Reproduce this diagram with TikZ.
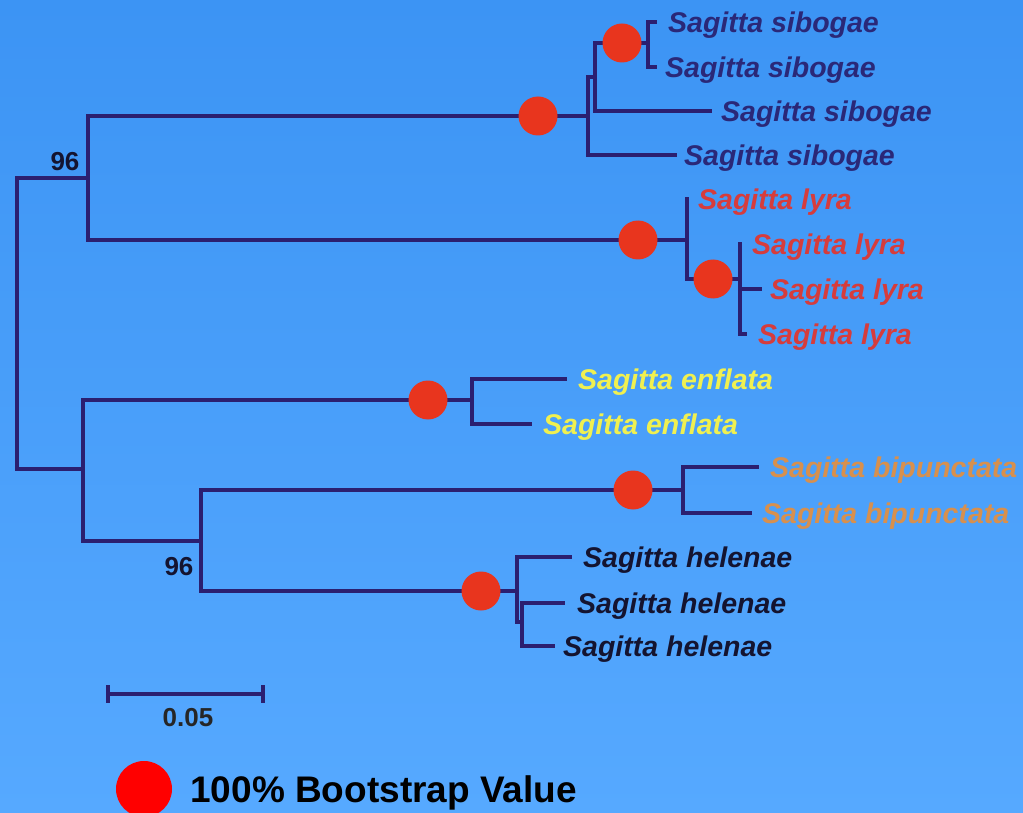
\documentclass[tikz,border=0pt]{standalone}
\usepackage{fontspec}
\setmainfont{Liberation Sans}
\usetikzlibrary{positioning}
\definecolor{bgtop}{HTML}{3C94F4}
\definecolor{bgbot}{HTML}{56A9FF}
\definecolor{branchcol}{HTML}{2B1F70}
\definecolor{bootcol}{HTML}{E8351E}
\definecolor{sibcol}{HTML}{2A2878}
\definecolor{lyrcol}{HTML}{D63C3C}
\definecolor{enfcol}{HTML}{F0F050}
\definecolor{bipcol}{HTML}{D7904E}
\definecolor{helcol}{HTML}{141430}
\begin{document}
\begin{tikzpicture}
  [
    x=1pt,y=-1pt,
    branch/.style={draw=branchcol,line width=4.5pt,line join=miter,line cap=rect},
    boot/.style={circle,fill=bootcol,minimum size=39pt,inner sep=0pt},
    taxon/.style={font=\fontsize{28.5}{30}\selectfont\bfseries\itshape,inner sep=0pt,yshift=-3pt},
    support/.style={font=\fontsize{26}{28}\selectfont\bfseries,text=helcol,inner sep=0pt},
  ]
  \shade [top color=bgtop,bottom color=bgbot] (0,0) rectangle (1023,813);
  \useasboundingbox (0,0) rectangle (1023,813);

  % inner nodes
  \coordinate (root) at (17,323);
  \coordinate (n1) at (88,178);
  \coordinate (n2) at (83,469);
  \coordinate (sib) at (588,116);
  \coordinate (sib2) at (595,77);
  \coordinate (sib3) at (648,43);
  \coordinate (lyr) at (687,240);
  \coordinate (lyr2) at (740,279);
  \coordinate (enf) at (472,400);
  \coordinate (n3) at (201,541);
  \coordinate (bip) at (683,490);
  \coordinate (hel) at (517,591);
  \coordinate (hel2) at (522,622);

  % tips
  \coordinate (t1) at (655,22);
  \coordinate (t2) at (655,67);
  \coordinate (t3) at (710,111);
  \coordinate (t4) at (675,155);
  \coordinate (t5) at (687,199);
  \coordinate (t6) at (740,244);
  \coordinate (t7) at (760,289);
  \coordinate (t8) at (745,334);
  \coordinate (t9) at (565,379);
  \coordinate (t10) at (530,424);
  \coordinate (t11) at (757,467);
  \coordinate (t12) at (750,513);
  \coordinate (t13) at (570,557);
  \coordinate (t14) at (563,603);
  \coordinate (t15) at (553,646);

  \draw [branch] (root) |- (n1);
  \draw [branch] (root) |- (n2);
  \draw [branch] (n1) |- (sib);
  \draw [branch] (n1) |- (lyr);
  \draw [branch] (sib) |- (t4);
  \draw [branch] (sib) |- (sib2);
  \draw [branch] (sib2) |- (t3);
  \draw [branch] (sib2) |- (sib3);
  \draw [branch] (sib3) |- (t1);
  \draw [branch] (sib3) |- (t2);
  \draw [branch] (lyr) |- (t5);
  \draw [branch] (lyr) |- (lyr2);
  \draw [branch] (lyr2) |- (t6);
  \draw [branch] (lyr2) |- (t7);
  \draw [branch] (lyr2) |- (t8);
  \draw [branch] (n2) |- (enf);
  \draw [branch] (n2) |- (n3);
  \draw [branch] (enf) |- (t9);
  \draw [branch] (enf) |- (t10);
  \draw [branch] (n3) |- (bip);
  \draw [branch] (n3) |- (hel);
  \draw [branch] (bip) |- (t11);
  \draw [branch] (bip) |- (t12);
  \draw [branch] (hel) |- (t13);
  \draw [branch] (hel) |- (hel2);
  \draw [branch] (hel2) |- (t14);
  \draw [branch] (hel2) |- (t15);

  % bootstrap dots
  \node (b1) at (622,43) [boot] {};
  \node (b2) at (538,116) [boot] {};
  \node (b3) at (638,240) [boot] {};
  \node (b4) at (713,279) [boot] {};
  \node (b5) at (428,400) [boot] {};
  \node (b6) at (633,490) [boot] {};
  \node (b7) at (481,591) [boot] {};

  \node (s1) [taxon,text=sibcol,right=13pt of t1] {Sagitta sibogae};
  \node (s2) [taxon,text=sibcol,right=10pt of t2] {Sagitta sibogae};
  \node (s3) [taxon,text=sibcol,right=11pt of t3] {Sagitta sibogae};
  \node (s4) [taxon,text=sibcol,right=9pt of t4] {Sagitta sibogae};
  \node (l1) [taxon,text=lyrcol,right=11pt of t5] {Sagitta lyra};
  \node (l2) [taxon,text=lyrcol,right=12pt of t6] {Sagitta lyra};
  \node (l3) [taxon,text=lyrcol,right=10pt of t7] {Sagitta lyra};
  \node (l4) [taxon,text=lyrcol,right=13pt of t8] {Sagitta lyra};
  \node (e1) [taxon,text=enfcol,right=13pt of t9] {Sagitta enflata};
  \node (e2) [taxon,text=enfcol,right=13pt of t10] {Sagitta enflata};
  \node (p1) [taxon,text=bipcol,right=13pt of t11] {Sagitta bipunctata};
  \node (p2) [taxon,text=bipcol,right=12pt of t12] {Sagitta bipunctata};
  \node (h1) [taxon,text=helcol,right=13pt of t13] {Sagitta helenae};
  \node (h2) [taxon,text=helcol,right=14pt of t14] {Sagitta helenae};
  \node (h3) [taxon,text=helcol,right=10pt of t15] {Sagitta helenae};

  \node (v1) at (65,162) [support] {96};
  \node (v2) at (179,567) [support] {96};

  % scale bar
  \coordinate (sb1) at (108,694);
  \coordinate (sb2) at (263,694);
  \draw [branch,line width=4pt,line cap=butt] (sb1) -- (sb2);
  \draw [branch,line width=4pt,line cap=butt] ([yshift=9pt]sb1) -- ([yshift=-9pt]sb1);
  \draw [branch,line width=4pt,line cap=butt] ([yshift=9pt]sb2) -- ([yshift=-9pt]sb2);
  \node (sbl) at (188,718) [support,text=black!85] {0.05};

  % legend
  \node (key) at (144,789) [circle,fill=red,minimum size=56pt,inner sep=0pt] {};
  \node (keytext) [right=18pt of key,yshift=-4pt,font=\fontsize{37}{40}\selectfont\bfseries,inner sep=0pt] {100\% Bootstrap Value};
\end{tikzpicture}
\end{document}
